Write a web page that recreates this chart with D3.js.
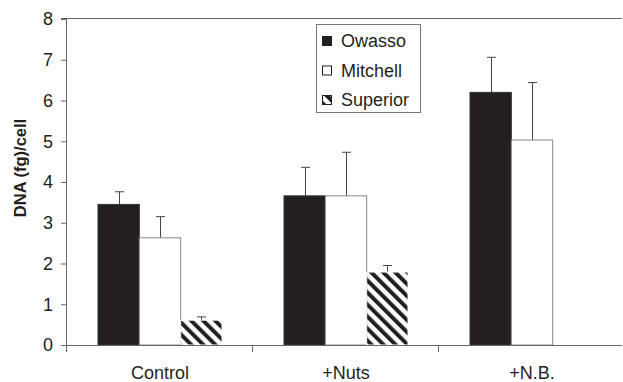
<!DOCTYPE html>
<html>
<head>
<meta charset="utf-8">
<script src="https://cdn.jsdelivr.net/npm/d3@7"></script>
<style>
  body { margin: 0; background: #fff; }
  svg { display: block; font-family: Arial, "Liberation Sans", sans-serif; }
</style>
</head>
<body>
<div id="chart"></div>
<script>
// data
const categories = ['Control', '+Nuts', '+N.B.'];
const seriesNames = ['Owasso', 'Mitchell', 'Superior'];
const owasso = [3.45, 3.66, 6.20];
const owassoErr = [0.31, 0.70, 0.86];
const mitchell = [2.63, 3.66, 5.03];
const mitchellErr = [0.52, 1.07, 1.41];
const superior = [0.61, 1.79, null];
const superiorErr = [0.08, 0.16, null];
const yTicks = [0, 1, 2, 3, 4, 5, 6, 7, 8];

const width = 623, height = 382;
const plotLeft = 67, plotRight = 625, plotTop = 19, plotBottom = 345;
const ink = '#231f20';

const svg = d3.select('#chart').append('svg')
    .attr('width', width)
    .attr('height', height);

// hatch pattern for Superior
const defs = svg.append('defs');
defs.append('pattern')
    .attr('id', 'hatch')
    .attr('patternUnits', 'userSpaceOnUse')
    .attr('width', 8.5)
    .attr('height', 8.5)
    .attr('patternTransform', 'rotate(-45)')
  .append('rect')
    .attr('width', 4)
    .attr('height', 8.5)
    .attr('fill', ink);

// scales
const x = d3.scaleBand()
    .domain(categories)
    .range([plotLeft, plotRight])
    .paddingInner(1/3)
    .paddingOuter(1/6);
const xs = d3.scaleBand()
    .domain(seriesNames)
    .range([0, x.bandwidth()]);
const y = d3.scaleLinear()
    .domain([0, 8])
    .range([plotBottom, plotTop]);

// build rows from the arrays
const values = {Owasso: owasso, Mitchell: mitchell, Superior: superior};
const errors = {Owasso: owassoErr, Mitchell: mitchellErr, Superior: superiorErr};
const fills = {Owasso: ink, Mitchell: '#fff', Superior: 'url(#hatch)'};
const strokes = {Owasso: '#333', Mitchell: '#888', Superior: '#fff'};
const rows = [];
categories.forEach((c, i) => {
    seriesNames.forEach(s => {
        if (values[s][i] != null) rows.push({cat: c, s: s, v: values[s][i], e: errors[s][i]});
    });
});

// top frame line
svg.append('line')
    .attr('x1', plotLeft - 6).attr('x2', 622)
    .attr('y1', y(8) - 0.5).attr('y2', y(8) - 0.5)
    .attr('stroke', '#666').attr('stroke-width', 1);

// error bars (drawn first so the bar top covers the stem start)
const err = svg.append('g').attr('stroke', '#444').attr('stroke-width', 1);
rows.forEach(d => {
    const cx = Math.round(x(d.cat) + xs(d.s) + xs.bandwidth() / 2) + 0.5;
    err.append('line')
        .attr('x1', cx).attr('x2', cx)
        .attr('y1', y(d.v)).attr('y2', y(d.v + d.e));
    err.append('line')
        .attr('x1', cx - 4.5).attr('x2', cx + 4.5)
        .attr('y1', y(d.v + d.e)).attr('y2', y(d.v + d.e));
});

// bars
svg.append('g').selectAll('rect')
    .data(rows)
    .join('rect')
    .attr('x', d => x(d.cat) + xs(d.s))
    .attr('y', d => y(d.v))
    .attr('width', xs.bandwidth())
    .attr('height', d => y(0) - y(d.v))
    .attr('fill', d => fills[d.s])
    .attr('stroke', d => strokes[d.s])
    .attr('stroke-width', 1);

// y axis
const yAxis = svg.append('g')
    .attr('transform', `translate(${plotLeft},0)`)
    .call(d3.axisLeft(y).tickValues(yTicks).tickFormat(d3.format('d')).tickSize(6).tickPadding(8));
yAxis.select('.domain').attr('stroke', '#666').attr('d', `M-0.5,${plotTop}V${plotBottom + 7}`);
yAxis.selectAll('.tick line').attr('stroke', '#666');
yAxis.selectAll('.tick text')
    .attr('fill', ink)
    .style('font-size', '18px')
    .style('font-family', 'Arial, "Liberation Sans", sans-serif');

// x axis with ticks at category boundaries
const xg = svg.append('g');
xg.append('line')
    .attr('x1', plotLeft - 6).attr('x2', 622)
    .attr('y1', plotBottom + 0.5).attr('y2', plotBottom + 0.5)
    .attr('stroke', '#666');
const bounds = categories.map(c => x(c) - x.step() * x.paddingInner() / 2);
bounds.push(plotRight);
xg.selectAll('line.tick')
    .data(bounds)
    .join('line')
    .classed('tick', true)
    .attr('x1', d => d - 0.5).attr('x2', d => d - 0.5)
    .attr('y1', plotBottom).attr('y2', plotBottom + 7)
    .attr('stroke', '#666');
xg.selectAll('text')
    .data(categories)
    .join('text')
    .attr('x', d => x(d) + x.bandwidth() / 2)
    .attr('y', 379)
    .attr('text-anchor', 'middle')
    .attr('fill', ink)
    .style('font-size', '18px')
    .text(d => d);

// y label
svg.append('text')
    .attr('transform', 'translate(25.5,168) rotate(-90)')
    .attr('text-anchor', 'middle')
    .attr('fill', ink)
    .style('font-size', '16.5px')
    .style('font-weight', 'bold')
    .text('DNA (fg)/cell');

// legend
const legend = svg.append('g');
legend.append('rect')
    .attr('x', 316.5).attr('y', 24.5)
    .attr('width', 104).attr('height', 88)
    .attr('fill', '#fff')
    .attr('stroke', '#777');
seriesNames.forEach((s, i) => {
    const base = 47 + i * 29.5;
    legend.append('rect')
        .attr('x', 322.5).attr('y', base - 10.5)
        .attr('width', 9).attr('height', 9)
        .attr('fill', fills[s])
        .attr('stroke', ink)
        .attr('stroke-width', 1);
    legend.append('text')
        .attr('x', 341).attr('y', base)
        .attr('fill', ink)
        .style('font-size', '18px')
        .text(s);
});
</script>
</body>
</html>
